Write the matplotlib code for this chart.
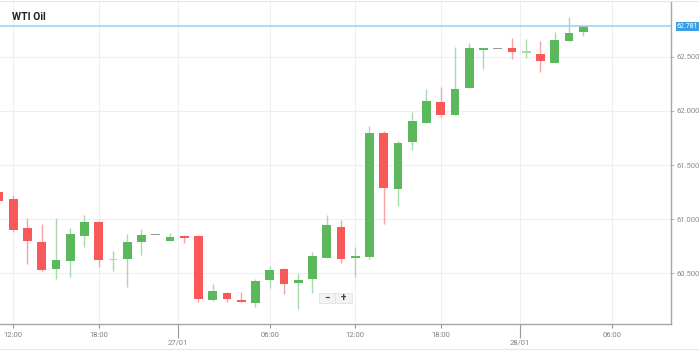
#!/usr/bin/env python3
# -*- coding: utf-8 -*-

import numpy as np
import pandas as pd
import matplotlib
matplotlib.use("Agg")
import matplotlib.pyplot as plt
from matplotlib.patches import Rectangle
from matplotlib.lines import Line2D

plt.rcParams["font.family"] = ["Roboto", "DejaVu Sans"]

# hourly WTI candles, 26/01 11:00 -> 28/01 04:00
opens = [61.251, 61.183, 60.921, 60.792, 60.537, 60.611, 60.847, 60.976, 60.627, 60.632,
         60.792, 60.860, 60.798, 60.844, 60.847, 60.253, 60.321, 60.253, 60.223, 60.438,
         60.540, 60.413, 60.450, 60.641, 60.930, 60.644, 60.650, 61.793, 61.281, 61.710,
         61.891, 62.079, 61.964, 62.209, 62.570, 62.576, 62.578, 62.543, 62.522, 62.439,
         62.645, 62.725]
highs = [61.260, 61.223, 61.013, 60.952, 61.013, 60.921, 61.038, 60.983, 60.709, 60.860,
         60.906, 60.860, 60.875, 60.854, 60.854, 60.398, 60.327, 60.327, 60.450, 60.567,
         60.549, 60.506, 60.699, 61.038, 60.992, 60.740, 61.860, 61.814, 61.722, 61.989,
         62.199, 62.223, 62.587, 62.624, 62.574, 62.576, 62.670, 62.661, 62.648, 62.725,
         62.869, 62.781]
lows = [61.160, 60.884, 60.583, 60.521, 60.450, 60.463, 60.740, 60.555, 60.517, 60.371,
        60.669, 60.860, 60.798, 60.783, 60.235, 60.247, 60.235, 60.235, 60.192, 60.364,
        60.312, 60.170, 60.318, 60.641, 60.592, 60.463, 60.635, 60.952, 61.121, 61.641,
        61.891, 61.940, 61.964, 62.209, 62.391, 62.576, 62.479, 62.491, 62.361, 62.439,
        62.645, 62.694]
closes = [61.165, 60.900, 60.798, 60.533, 60.620, 60.863, 60.971, 60.626, 60.627, 60.789,
          60.856, 60.860, 60.832, 60.823, 60.265, 60.334, 60.263, 60.236, 60.429, 60.530,
          60.401, 60.441, 60.658, 60.946, 60.629, 60.657, 61.798, 61.288, 61.706, 61.904,
          62.088, 61.959, 62.205, 62.578, 62.575, 62.576, 62.546, 62.543, 62.458, 62.654,
          62.716, 62.781]
last_price = 62.781

x_ticks = [0, 6, 11.55, 18, 24, 30, 35.55, 42]
x_labels = ["12:00", "18:00", "27/01", "06:00", "12:00", "18:00", "28/01", "06:00"]
y_ticks = [60.5, 61.0, 61.5, 62.0, 62.5]

GREEN, GREEN_W = "#5cb85c", "#a9dba9"
RED, RED_W = "#f95858", "#f8a3a3"
GRAY = "#9a9a9a"

times = pd.date_range("2020-01-26 11:00", periods=len(closes), freq="h")
x = ((times - pd.Timestamp("2020-01-26 12:00")) / pd.Timedelta(hours=1)).to_numpy()
o, h, l, c = map(np.array, (opens, highs, lows, closes))

fig = plt.figure(figsize=(6.99, 3.51), dpi=100)
ax = fig.add_axes([0, 1 - 324 / 351, 671 / 699, 322 / 351])

minh = 0.014
for xi, oi, hi, li, ci in zip(x, o, h, l, c):
    if ci > oi:
        body, wick = GREEN, GREEN_W
    elif ci < oi:
        body, wick = RED, RED_W
    elif hi > li:
        body, wick = GREEN_W, GREEN_W
    else:
        body, wick = GRAY, GRAY
    if hi > li:
        ax.vlines(xi, li, hi, color=wick, lw=1, zorder=2)
    lo_b = min(oi, ci)
    hb = max(abs(ci - oi), minh)
    if hb == minh:
        lo_b = (oi + ci) / 2 - minh / 2
    ax.bar(xi, hb, bottom=lo_b, width=0.62, color=body, lw=0, zorder=3)

ax.axhline(last_price, color="#9fd2f2", lw=1.2, zorder=4)

ax.set_xlim(-0.926, 46.16)
ax.set_ylim(60.032, 63.005)

ax.set_xticks(x_ticks)
ax.set_xticklabels([lab if ":" in lab else "\n" + lab for lab in x_labels])
ax.set_yticks(y_ticks)
ax.set_yticklabels([f"{v:.3f}" for v in y_ticks])
ax.yaxis.tick_right()
ax.tick_params(axis="x", length=3, color="#999999", labelcolor="#808080",
               labelsize=5.5, pad=3)
ax.tick_params(axis="y", length=2, color="#bbbbbb", labelcolor="#8a8a8a",
               labelsize=5.5, pad=2)
for t, lab in zip(ax.xaxis.get_major_ticks(), x_labels):
    if ":" not in lab:
        t.tick1line.set_markersize(10)
        t.tick1line.set_color("#c8c8c8")

ax.grid(True, color="#efefef", lw=0.8, zorder=0)
for s in ("left", "top"):
    ax.spines[s].set_visible(False)
for s in ("right", "bottom"):
    ax.spines[s].set_color("#a6a6a6")
    ax.spines[s].set_linewidth(1)

# last price tag
ax.annotate(f"{last_price:.3f}", xy=(1.0, last_price), xycoords=("axes fraction", "data"),
            xytext=(4, 0), textcoords="offset points", ha="left", va="center",
            fontsize=5, color="white",
            bbox=dict(boxstyle="square,pad=0.15", fc="#3a9fe6", ec="none"))

fig.text(12 / 699, 1 - 16.5 / 351, "WTI Oil", fontsize=7.5, fontweight="bold",
         color="#222222", va="center", ha="left")

# zoom widget
W, H = 699.0, 351.0
fig.add_artist(Rectangle((319 / W, 1 - 303 / H), 33 / W, 10 / H, transform=fig.transFigure,
                         fc="#f3f3f3", ec="#e2e2e2", lw=0.6))
fig.add_artist(Line2D([335 / W, 335 / W], [1 - 303 / H, 1 - 293 / H],
                      transform=fig.transFigure, color="#e2e2e2", lw=0.6))
fig.text(327 / W, 1 - 298 / H, "−", fontsize=7, fontweight="bold", color="#444444",
         ha="center", va="center")
fig.text(343 / W, 1 - 298 / H, "+", fontsize=7, fontweight="bold", color="#444444",
         ha="center", va="center")

# frame lines of the widget container
fig.add_artist(Line2D([0, 1], [1 - 1 / H, 1 - 1 / H], transform=fig.transFigure,
                      color="#e6e6e6", lw=0.8))
fig.add_artist(Line2D([0, 1], [1 - 349 / H, 1 - 349 / H], transform=fig.transFigure,
                      color="#e6e6e6", lw=0.8))

fig.savefig("out.png", dpi=100)
